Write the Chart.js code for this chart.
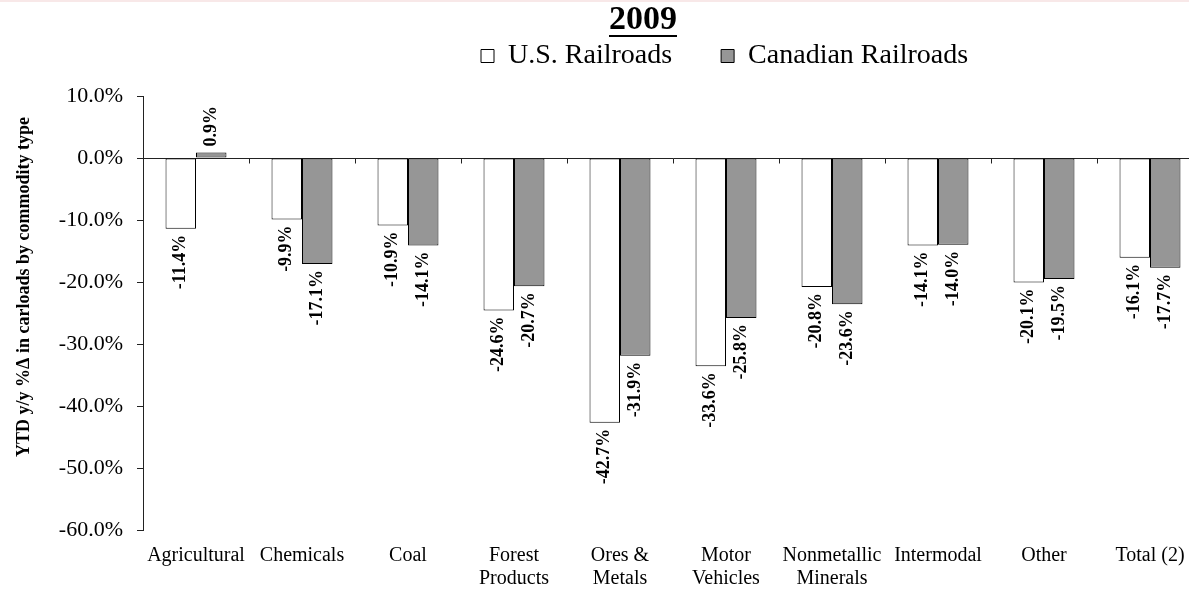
<!DOCTYPE html>
<html>
<head>
<meta charset="utf-8">
<title>2009 carloads by commodity type</title>
<script src="https://cdn.jsdelivr.net/npm/chart.js@4.4.1/dist/chart.umd.min.js"></script>
<style>
  html, body { margin: 0; padding: 0; background: #fff; overflow: hidden; }
  #frame { position: relative; width: 1189px; height: 590px; overflow: hidden; }
  #frame canvas { position: absolute; left: 0; top: 0; }
  #edge { position: absolute; left: 0; top: 0; width: 100%; height: 2px; background: #f8e8e8; }
</style>
</head>
<body>
<div id="frame">
  <canvas id="chart" width="1210" height="590"></canvas>
  <div id="edge"></div>
</div>
<script>
// Commodity groups along the category axis
const categories = [
  'Agricultural', 'Chemicals', 'Coal', ['Forest', 'Products'], ['Ores &', 'Metals'],
  ['Motor', 'Vehicles'], ['Nonmetallic', 'Minerals'], 'Intermodal', 'Other', 'Total (2)'
];
// YTD y/y % change in carloads
const usRailroads       = [-11.4, -9.9, -10.9, -24.6, -42.7, -33.6, -20.8, -14.1, -20.1, -16.1];
const canadianRailroads = [0.9, -17.1, -14.1, -20.7, -31.9, -25.8, -23.6, -14.0, -19.5, -17.7];
const seriesNames = ['U.S. Railroads', 'Canadian Railroads'];
// Value axis ticks (percent)
const yMin = -60;
const yMax = 10;
const yStep = 10;
const chartTitle = '2009';
const yAxisTitle = 'YTD y/y %\u0394 in carloads by commodity type';

const SERIF = "'Liberation Serif', 'Times New Roman', serif";
const pct = v => v.toFixed(1) + '%';

// Header block: title (40.8px) + legend (55.2px) put the plot top at 96px
const TITLE_SIZE = 34;
const TITLE_BLOCK = TITLE_SIZE * 1.2;
const LEGEND_BLOCK = 96 - TITLE_BLOCK;

// Place the title and the legend above the plot at fixed spots
const headerPlacement = {
  id: 'headerPlacement',
  afterLayout(chart) {
    const t = chart.titleBlock;
    if (t) {
      const dx = 643 - (t.left + t.right) / 2;
      t.left += dx; t.right += dx;
    }
    const lg = chart.legend;
    if (lg) {
      const p = lg.options.labels.padding;
      const fs = lg.options.labels.font.size;
      const left = 481 - p;
      const top = 56 - p - fs / 2;
      lg.left = left; lg.right = left + 1000;
      lg.top = top; lg.bottom = top + 140;
    }
  },
  afterDraw(chart) {
    const t = chart.titleBlock;
    if (!t) return;
    const ctx = chart.ctx;
    ctx.save();
    ctx.font = `bold ${TITLE_SIZE}px ${SERIF}`;
    const w = ctx.measureText(chartTitle).width;
    const cx = (t.left + t.right) / 2;
    ctx.fillStyle = '#000';
    ctx.fillRect(cx - w / 2, 35, w, 2);
    ctx.restore();
  }
};

// Value-axis caption, drawn in the space reserved left of the axis
const valueAxisCaption = {
  id: 'valueAxisCaption',
  afterDraw(chart) {
    const ctx = chart.ctx;
    ctx.save();
    ctx.font = `bold 18px ${SERIF}`;
    ctx.fillStyle = '#000';
    ctx.textAlign = 'center';
    ctx.textBaseline = 'middle';
    ctx.translate(24, 287);
    ctx.rotate(-Math.PI / 2);
    ctx.fillText(yAxisTitle, 0, 0);
    ctx.restore();
  }
};

// Short tick marks on the zero line between category groups
const zeroLineTicks = {
  id: 'zeroLineTicks',
  beforeDatasetsDraw(chart) {
    const x = chart.scales.x, y = chart.scales.y;
    const y0 = Math.round(y.getPixelForValue(0)) + 0.5;
    const ctx = chart.ctx;
    ctx.save();
    ctx.strokeStyle = '#222';
    ctx.lineWidth = 1;
    ctx.beginPath();
    for (let i = 1; i <= categories.length; i++) {
      const bx = Math.round(x.getPixelForValue(i - 0.5)) + 0.5;
      ctx.moveTo(bx, y0);
      ctx.lineTo(bx, y0 + 5);
    }
    ctx.stroke();
    ctx.restore();
  }
};

// Rotated value labels just past the end of every bar
const barValueLabels = {
  id: 'barValueLabels',
  afterDatasetsDraw(chart) {
    const ctx = chart.ctx;
    ctx.save();
    ctx.font = `bold 18px ${SERIF}`;
    ctx.fillStyle = '#000';
    ctx.textBaseline = 'middle';
    chart.data.datasets.forEach((ds, di) => {
      const meta = chart.getDatasetMeta(di);
      meta.data.forEach((bar, i) => {
        const v = ds.data[i];
        const gap = 6;
        ctx.save();
        ctx.translate(bar.x, v < 0 ? bar.y + gap : bar.y - gap);
        ctx.rotate(-Math.PI / 2);
        ctx.textAlign = v < 0 ? 'right' : 'left';
        ctx.fillText(pct(v), 0, 0);
        ctx.restore();
      });
    });
    ctx.restore();
  }
};

new Chart(document.getElementById('chart'), {
  type: 'bar',
  data: {
    labels: categories,
    datasets: [
      {
        label: seriesNames[0],
        data: usRailroads,
        backgroundColor: '#ffffff',
        borderColor: '#000000',
        borderWidth: 1,
        borderSkipped: false
      },
      {
        label: seriesNames[1],
        data: canadianRailroads,
        backgroundColor: '#969696',
        borderColor: '#000000',
        borderWidth: 1,
        borderSkipped: false
      }
    ]
  },
  options: {
    responsive: false,
    animation: false,
    devicePixelRatio: 1,
    categoryPercentage: 0.575,
    barPercentage: 1.0,
    layout: { padding: { top: 0, right: 7, bottom: 0, left: 0 } },
    plugins: {
      title: {
        display: true,
        text: chartTitle,
        color: '#000',
        font: { family: SERIF, size: TITLE_SIZE, weight: 'bold', lineHeight: 1.2 },
        padding: { top: 0, bottom: 0 }
      },
      legend: {
        position: 'top',
        align: 'start',
        maxHeight: LEGEND_BLOCK,
        labels: {
          color: '#000',
          font: { family: SERIF, size: 28 },
          boxWidth: 13,
          boxHeight: 13,
          padding: 49
        }
      },
      tooltip: { enabled: false }
    },
    scales: {
      x: {
        grid: { display: false, drawTicks: false, tickLength: 0 },
        border: { display: false },
        ticks: {
          color: '#000',
          font: { family: SERIF, size: 20, lineHeight: 1.12 },
          padding: 15,
          maxRotation: 0,
          minRotation: 0,
          autoSkip: false
        },
        afterFit(scale) { scale.height = 60; }
      },
      y: {
        min: yMin,
        max: yMax,
        border: { display: true, color: '#222', width: 1 },
        grid: {
          drawOnChartArea: true,
          color: c => (c.tick && c.tick.value === 0 ? '#222' : 'rgba(0,0,0,0)'),
          tickColor: '#222',
          tickLength: 6,
          lineWidth: 1
        },
        ticks: {
          stepSize: yStep,
          color: '#000',
          font: { family: SERIF, size: 22 },
          padding: 14,
          callback: v => pct(v)
        },
        title: { display: false },
        afterFit(scale) { scale.width = 143; }
      }
    }
  },
  plugins: [headerPlacement, valueAxisCaption, zeroLineTicks, barValueLabels]
});
</script>
</body>
</html>
